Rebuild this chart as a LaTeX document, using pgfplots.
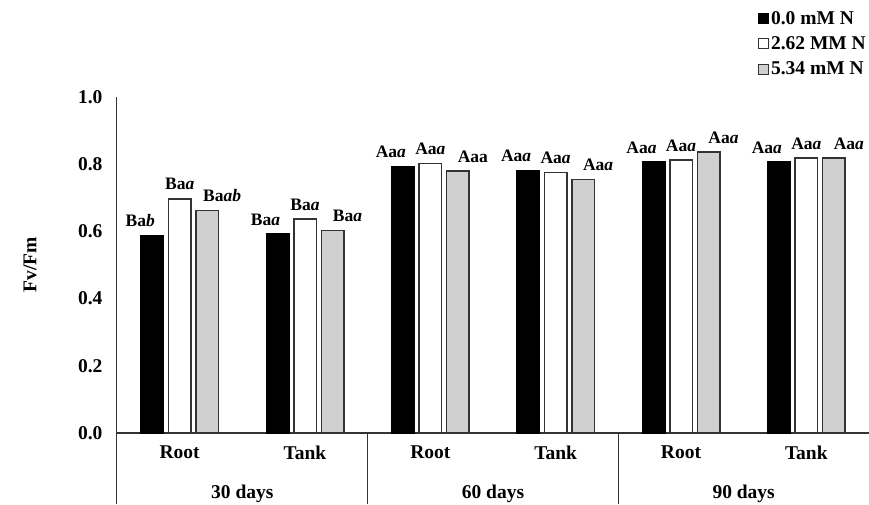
\documentclass[border=0pt]{standalone}
\usepackage{fontspec}
\setmainfont{Liberation Serif}
\usepackage{pgfplots}
\pgfplotsset{compat=1.18}
\definecolor{barg}{HTML}{D0D0D0}
\definecolor{edge}{HTML}{333333}
\newcommand{\lf}{\fontsize{19.5}{20}\selectfont\bfseries}
\newcommand{\blf}{\fontsize{17.5}{18}\selectfont\bfseries}
\begin{document}
\begin{tikzpicture}
\useasboundingbox (-117pt,-71pt) rectangle (752pt,433pt);
\begin{axis}[
  at={(0pt,0pt)}, anchor=south west,
  scale only axis, width=752pt, height=336pt,
  xmin=-0.5, xmax=5.5, ymin=0, ymax=1,
  axis x line*=bottom, axis y line*=left,
  x axis line style={-, line width=1.6pt, color=edge},
  y axis line style={-, line width=1pt, color=edge},
  major tick length=0pt,
  ytick={0,0.2,0.4,0.6,0.8,1.0},
  yticklabel style={font=\lf, xshift=-11pt, /pgf/number format/.cd, fixed, fixed zerofill, precision=1, assume math mode=true},
  xtick={0,1,2,3,4,5},
  xticklabels={Root,Tank,Root,Tank,Root,Tank},
  xticklabel style={font=\lf, yshift=-9pt},
  ybar=5pt, bar width=22.5pt,
  point meta=explicit symbolic,
  nodes near coords={\pgfplotspointmeta},
  nodes near coords style={font=\blf, inner sep=2pt, yshift=6pt},
  clip=false,
  legend style={at={(rel axis cs:1.0,1.265)}, anchor=north east, draw=none, fill=none,
    font=\lf, row sep=7pt, inner sep=1pt,
    /tikz/every even column/.append style={column sep=1pt}},
  legend cell align=left,
  legend image code/.code={\draw[#1, line width=1pt] (0pt,-5pt) rectangle (10pt,5pt);},
]
\addplot[fill=black, draw=black, line width=1.5pt, nodes near coords style={xshift=-12pt}] coordinates {
  (0,0.587) [Ba\textit{b}]
  (1,0.592) [Ba\textit{a}]
  (2,0.792) [Aa\textit{a}]
  (3,0.780) [Aa\textit{a}]
  (4,0.806) [Aa\textit{a}]
  (5,0.806) [Aa\textit{a}]
};
\addlegendentry{0.0 mM N}
\addplot[fill=white, draw=edge, line width=1.5pt] coordinates {
  (0,0.697) [Ba\textit{a}]
  (1,0.637) [Ba\textit{a}]
  (2,0.802) [Aa\textit{a}]
  (3,0.776) [Aa\textit{a}]
  (4,0.812) [Aa\textit{a}]
  (5,0.818) [Aa\textit{a}]
};
\addlegendentry{2.62 MM N}
\addplot[fill=barg, draw=edge, line width=1.5pt, nodes near coords style={xshift=15pt}] coordinates {
  (0,0.662) [Ba\textit{ab}]
  (1,0.603) [Ba\textit{a}]
  (2,0.780) [Aaa]
  (3,0.755) [Aa\textit{a}]
  (4,0.836) [Aa\textit{a}]
  (5,0.818) [Aa\textit{a}]
};
\addlegendentry{5.34 mM N}
\draw[edge, line width=1pt] (axis cs:-0.5,0) -- ++(0pt,-71pt);
\draw[edge, line width=1pt] (axis cs:1.5,0) -- ++(0pt,-71pt);
\draw[edge, line width=1pt] (axis cs:3.5,0) -- ++(0pt,-71pt);
\node[font=\lf] at ([yshift=-61pt]axis cs:0.5,0) {30 days};
\node[font=\lf] at ([yshift=-61pt]axis cs:2.5,0) {60 days};
\node[font=\lf] at ([yshift=-61pt]axis cs:4.5,0) {90 days};
\node[font=\lf, rotate=90] at ([xshift=-87pt]rel axis cs:0,0.5) {Fv/Fm};
\end{axis}
\end{tikzpicture}
\end{document}
